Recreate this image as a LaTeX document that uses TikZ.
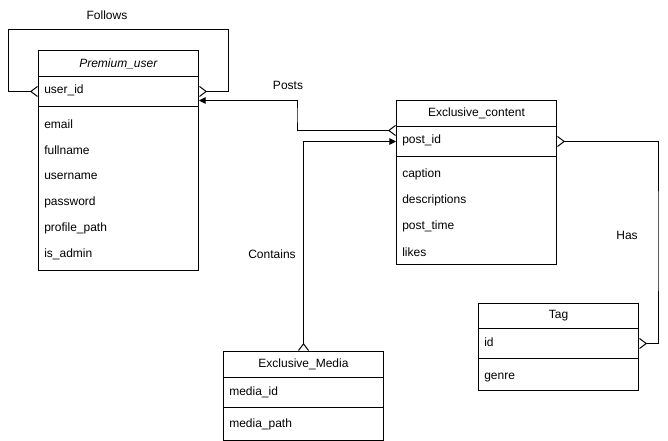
\documentclass[tikz,border=0pt]{standalone}
\usepackage{fontspec}
\setmainfont{Liberation Sans}
\usetikzlibrary{arrows.meta, positioning}

\tikzset{
  entity/.style={draw, line width=0.75pt, minimum width=120pt, inner sep=0pt, anchor=north west},
  head/.style={entity, minimum height=19.5pt},
  keyrow/.style={entity, minimum height=22.5pt},
  field/.style={anchor=west, inner sep=0pt},
  rel/.style={line width=0.75pt},
  crow/.tip={Straight Barb[reversed, length=5pt, width=7.5pt, line width=0.75pt]},
  one/.tip={Triangle[length=5pt, width=5pt]},
}

\begin{document}
\begin{tikzpicture}[x=0.75pt, y=-0.75pt, font=\fontsize{9}{11}\selectfont]
\useasboundingbox (0,0) rectangle (668,441);

% Premium_user
\node[head] (puhead) at (38,50) {\textit{Premium\_user}};
\node[keyrow] (puid) at (38,76) {};
\node[entity, minimum height=123pt] (puattr) at (38,106) {};
\node[field] (pukey) at (44,90) {user\_id};
\node[field] (puemail) at (44,124) {email};
\node[field] (pufull) at (44,150) {fullname};
\node[field] (puuser) at (44,176) {username};
\node[field] (pupass) at (44,202) {password};
\node[field] (puprof) at (44,228) {profile\_path};
\node[field] (puadmin) at (44,254) {is\_admin};

% Exclusive_content
\node[head] (echead) at (396,100) {Exclusive\_content};
\node[keyrow] (ecid) at (396,126) {};
\node[entity, minimum height=81pt] (ecattr) at (396,156) {};
\node[field] (eckey) at (402,140) {post\_id};
\node[field] (eccap) at (402,174) {caption};
\node[field] (ecdesc) at (402,200) {descriptions};
\node[field] (ectime) at (402,226) {post\_time};
\node[field] (eclikes) at (402,252) {likes};

% Tag
\node[head, minimum height=18.75pt] (taghead) at (478,303) {Tag};
\node[keyrow] (tagid) at (478,328) {};
\node[entity, minimum height=24pt] (tagattr) at (478,358) {};
\node[field] (tagkey) at (484,342) {id};
\node[field] (taggenre) at (484,378) {genre};

% Exclusive_Media
\node[head] (emhead) at (223,351) {Exclusive\_Media};
\node[keyrow] (emid) at (223,377) {};
\node[entity, minimum height=24.75pt] (emattr) at (223,407) {};
\node[field] (emkey) at (229,392) {media\_id};
\node[field] (empath) at (229,424) {media\_path};

% relations
\coordinate (followsL) at (8,30);
\coordinate (followsR) at (228,30);
\draw[rel, {crow}-{crow}] (puid.west) -| (followsL) -- (followsR) |- (puid.east);
\node (follows) at (107,15) {Follows};

\coordinate (postsBend) at (297,115);
\draw[rel, {crow}-{one}] ([yshift=8.25pt]ecid.west) -| (postsBend) |- ([yshift=-6.75pt]puid.east);
\node (posts) at (288,85) {Posts};

\draw[rel, {crow}-{one}] (emhead.north) |- (ecid.west);
\node (contains) at (272,254) {Contains};

\coordinate (hasBend) at (658,240);
\draw[rel, {crow}-{crow}] (ecid.east) -| (hasBend) |- (tagid.east);
\node (has) at (627,235) {Has};

\end{tikzpicture}
\end{document}
